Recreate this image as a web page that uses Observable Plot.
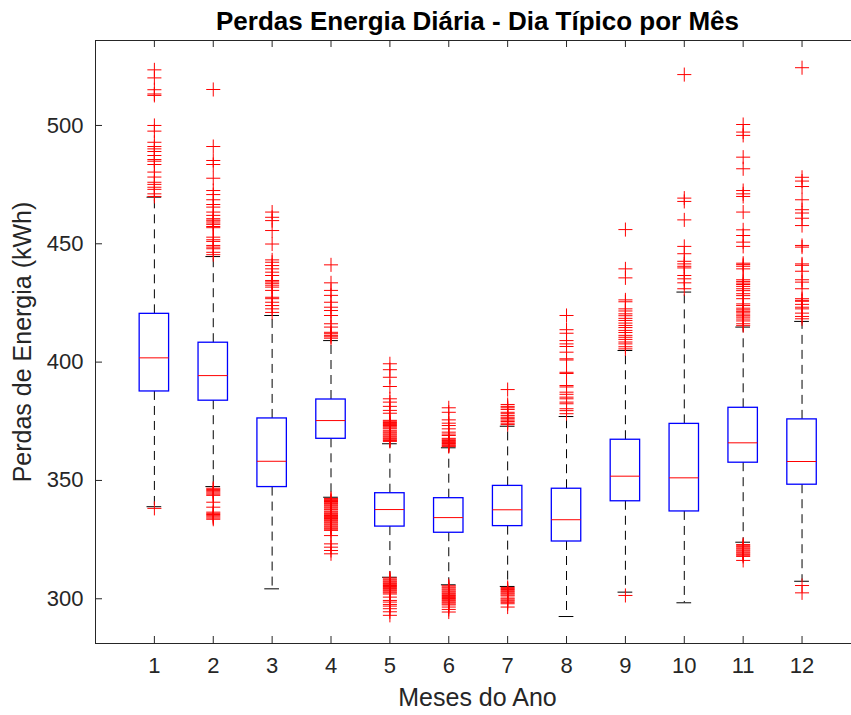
<!DOCTYPE html>
<html><head><meta charset="utf-8">
<script src="https://cdn.jsdelivr.net/npm/d3@7"></script>
<script src="https://cdn.jsdelivr.net/npm/@observablehq/plot@0.6"></script>
<style>body{margin:0;background:#fff}</style>
</head><body><div id="chart"></div>
<script>
// ---- data ----
const months = [1, 2, 3, 4, 5, 6, 7, 8, 9, 10, 11, 12];
const yTicks = [300, 350, 400, 450, 500];
const q1 = [387.6, 383.7, 347.2, 367.6, 330.5, 327.9, 330.7, 324.2, 341.2, 336.9, 357.5, 348.2];
const medians = [401.8, 394.3, 358.1, 375.3, 337.7, 334.3, 337.6, 333.4, 351.8, 351.1, 365.9, 358.0];
const q3 = [420.4, 408.2, 376.2, 384.2, 344.6, 342.5, 347.7, 346.5, 367.2, 373.9, 380.7, 375.8];
const whiskerLow = [338.9, 347.4, 304.2, 342.9, 309.1, 305.9, 305.2, 292.5, 302.8, 298.3, 323.9, 307.4];
const whiskerHigh = [469.7, 444.6, 419.7, 409.1, 365.5, 363.8, 372.9, 377.0, 404.9, 429.6, 414.8, 417.2];
const outliers = [
  [523.5, 520.1, 515.1, 513.3, 512.7, 500.0, 497.6, 492.9, 491.1, 490.1, 489.0, 487.3, 485.6, 484.9, 483.5, 480.3, 478.2, 476.0, 475.1, 473.9, 473.0, 471.1, 470.0, 338.2],
  [515.2, 491.1, 485.2, 483.5, 477.7, 472.5, 470.8, 468.6, 466.6, 465.5, 463.4, 462.0, 460.6, 460.0, 459.6, 458.8, 458.2, 457.3, 456.8, 452.8, 451.7, 451.0, 449.3, 448.6, 447.9, 446.4, 445.4,
   346.7, 346.2, 345.7, 345.2, 344.7, 344.2, 343.7, 340.8, 338.7, 336.6, 336.1, 335.6, 335.1, 334.6, 334.1, 333.6],
  [463.4, 461.2, 459.8, 455.6, 449.9, 443.2, 442.2, 440.8, 439.4, 438.0, 436.6, 434.5, 433.9, 433.3, 432.5, 431.7, 430.3, 427.4, 426.8, 425.3, 423.9, 422.5, 421.0],
  [441.1, 433.5, 430.3, 428.2, 425.3, 423.2, 421.8, 419.7, 416.2, 414.8, 412.6, 412.0, 411.3, 410.7, 410.1,
   342.4, 342.0, 341.5, 341.1, 340.6, 340.2, 339.7, 339.3, 338.8, 338.4, 337.9, 337.6, 337.0, 336.6, 336.1, 335.7, 335.2, 334.8, 334.3, 333.9, 333.4, 333.0, 332.5, 332.1, 331.6, 331.2, 330.7, 330.3, 329.8, 329.4, 328.9,
   326.7, 323.2, 321.8, 320.4, 319.0],
  [399.3, 396.8, 393.6, 389.7, 384.5, 383.1, 381.3, 379.6, 378.4, 375.4, 375.0, 374.5, 374.1, 373.6, 373.2, 372.7, 372.2, 371.8, 371.0, 370.5, 370.1, 369.6, 369.2, 368.7, 368.3, 367.8, 367.4, 366.9, 366.5,
   308.8, 308.3, 307.9, 307.4, 307.0, 306.5, 306.1, 305.6, 305.2, 304.7, 304.3, 303.8, 303.4, 302.9, 302.5, 302.0, 300.7, 299.3, 298.6, 297.6, 296.9, 295.8, 294.5, 293.0],
  [380.7, 378.8, 375.6, 374.2, 373.2, 371.8, 370.4, 369.6, 369.0, 367.8, 367.4, 366.9, 366.5, 366.0, 365.6, 365.1, 364.7, 364.3,
   305.5, 305.0, 304.6, 304.1, 303.7, 303.2, 302.8, 302.3, 301.9, 301.4, 301.0, 300.5, 300.1, 299.6, 299.2, 298.7, 298.3, 297.8, 297.4, 296.5, 295.5, 294.4],
  [388.4, 382.1, 381.3, 380.7, 380.0, 378.8, 378.2, 377.4, 376.7, 376.1, 375.5, 374.9, 374.2, 373.6,
   304.8, 304.3, 303.9, 303.4, 303.0, 302.5, 302.1, 301.6, 301.2, 300.3, 299.9, 299.4, 299.0, 298.5, 297.9, 296.5],
  [419.7, 413.7, 412.2, 409.1, 407.7, 406.6, 404.2, 401.4, 400.9, 395.7, 395.2, 390.1, 389.5, 387.3, 386.4, 385.2, 384.5, 383.1, 382.4, 380.3, 379.5, 378.2],
  [456.0, 439.4, 435.6, 426.3, 425.5, 422.5, 421.6, 420.4, 419.6, 418.5, 417.6, 416.5, 415.5, 414.6, 413.4, 412.5, 411.3, 410.5, 409.6, 408.5, 407.7, 406.5, 405.6, 301.4],
  [521.5, 469.3, 467.9, 460.1, 448.9, 445.8, 442.6, 441.5, 440.5, 439.8, 436.6, 435.2, 433.5, 431.0],
  [500.4, 497.2, 495.8, 486.6, 481.7, 472.5, 471.1, 470.0, 463.4, 455.9, 453.5, 450.7, 448.9, 441.8, 441.2, 440.5, 439.4, 434.8, 434.1, 433.4, 432.8, 432.0, 431.0, 430.2, 428.9, 428.1, 426.8, 424.6, 423.9, 422.8, 422.1, 421.5, 421.1, 420.3, 419.6, 419.0, 418.2, 417.4, 416.2, 415.4,
   322.9, 322.4, 322.0, 321.5, 321.1, 320.6, 320.2, 319.7, 319.3, 318.8, 318.4, 317.9, 316.2],
  [524.4, 478.1, 476.5, 474.2, 468.6, 464.4, 463.0, 460.8, 457.7, 449.3, 448.6, 441.5, 440.9, 438.4, 434.8, 433.8, 431.0, 426.8, 426.1, 425.7, 424.4, 423.2, 422.5, 420.7, 419.3, 418.3,
   305.6, 302.5]
];
const titleText = "Perdas Energia Diária - Dia Típico por Mês";
const xLabelText = "Meses do Ano";
const yLabelText = "Perdas de Energia (kWh)";

// ---- layout ----
const W = 851, H = 715, mL = 95, mR = 0, mT = 40, mB = 72;
const xDomain = [0, 12.84], yDomain = [281.1, 535.9];
const plotW = W - mL - mR, plotH = H - mT - mB;
const boxHalf = 0.25, capHalf = 0.125, tickLen = 7;
const axisColor = "#262626";
const font = "'Liberation Sans', Arial, Helvetica, sans-serif";

const boxes = months.map((m, i) => ({m, q1: q1[i], med: medians[i], q3: q3[i], lo: whiskerLow[i], hi: whiskerHigh[i]}));
const outs = months.flatMap((m, i) => outliers[i].map(v => ({m, v})));

const chart = Plot.plot({
  width: W, height: H,
  marginLeft: mL, marginRight: mR, marginTop: mT, marginBottom: mB,
  style: {fontFamily: font, fontSize: "22px", color: axisColor, background: "#fff", overflow: "visible"},
  x: {type: "linear", domain: xDomain},
  y: {type: "linear", domain: yDomain},
  marks: [
    // whiskers
    Plot.ruleX(boxes, {x: "m", y1: "q3", y2: "hi", stroke: "#000", strokeWidth: 1, strokeDasharray: "9,6"}),
    Plot.ruleX(boxes, {x: "m", y1: "q1", y2: "lo", stroke: "#000", strokeWidth: 1, strokeDasharray: "9,6"}),
    Plot.ruleY(boxes, {y: "hi", x1: d => d.m - capHalf, x2: d => d.m + capHalf, stroke: "#000", strokeWidth: 1}),
    Plot.ruleY(boxes, {y: "lo", x1: d => d.m - capHalf, x2: d => d.m + capHalf, stroke: "#000", strokeWidth: 1}),
    // boxes
    Plot.rect(boxes, {x1: d => d.m - boxHalf, x2: d => d.m + boxHalf, y1: "q1", y2: "q3", fill: "none", stroke: "#0000ff", strokeWidth: 1.3}),
    Plot.ruleY(boxes, {y: "med", x1: d => d.m - boxHalf, x2: d => d.m + boxHalf, stroke: "#ff0000", strokeWidth: 1}),
    // outliers
    Plot.dot(outs, {x: "m", y: "v", symbol: "plus", r: 4.6, stroke: "#ff0000", strokeWidth: 1}),
    // axes frame (left, top, bottom)
    Plot.ruleY([yDomain[0]], {y: d => d, stroke: axisColor, strokeWidth: 1}),
    Plot.ruleY([yDomain[1]], {y: d => d, stroke: axisColor, strokeWidth: 1}),
    Plot.ruleX([xDomain[0]], {x: d => d, stroke: axisColor, strokeWidth: 1}),
    // inward ticks
    Plot.ruleY(yTicks, {y: d => d, insetRight: plotW - tickLen, stroke: axisColor}),
    Plot.ruleX(months, {x: d => d, insetTop: plotH - tickLen, stroke: axisColor}),
    Plot.ruleX(months, {x: d => d, insetBottom: plotH - tickLen, stroke: axisColor}),
    // tick labels
    Plot.axisY(yTicks, {tickSize: 0, tickPadding: 12, label: null}),
    Plot.axisX(months, {tickSize: 0, tickPadding: 14, label: null}),
    // title & labels
    Plot.text([titleText], {text: d => d, frameAnchor: "top", dx: 4, dy: -29, lineAnchor: "top", textAnchor: "middle", fontSize: 26, fontWeight: "bold", fill: "#000"}),
    Plot.text([xLabelText], {text: d => d, frameAnchor: "bottom", dx: 4, dy: 45, lineAnchor: "top", textAnchor: "middle", fontSize: 25, fill: axisColor}),
    Plot.text([yLabelText], {text: d => d, frameAnchor: "left", dx: -82, rotate: -90, lineAnchor: "top", textAnchor: "middle", fontSize: 25, fill: axisColor})
  ]
});
document.getElementById("chart").append(chart);
</script>
</body></html>
